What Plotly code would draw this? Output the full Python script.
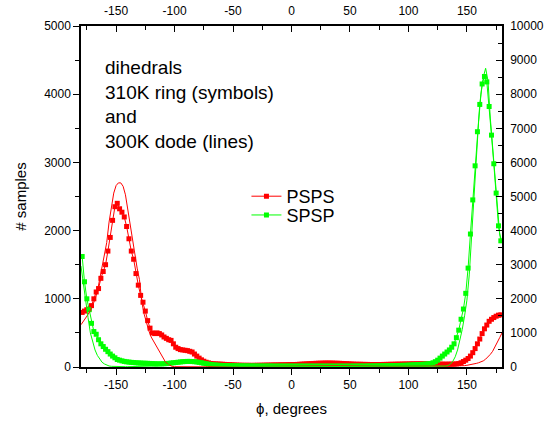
import plotly.graph_objects as go

# ---- data -------------------------------------------------------------
# 310K ring simulation (symbols), left axis, bins every 2 degrees
phi_ring = list(range(-179, 180, 2))
psps_ring = [
    800, 820, 840, 850, 900, 1000, 1100, 1150, 1300, 1400,
    1500, 1700, 1900, 2150, 2350, 2400, 2320, 2270, 2200, 2060,
    1880, 1700, 1580, 1370, 1200, 1050, 950, 820, 680, 570,
    500, 490, 500, 490, 470, 440, 420, 400, 390, 340,
    290, 270, 255, 250, 245, 240, 230, 220, 190, 160,
    130, 105, 85, 70, 60, 52, 48, 45, 44, 42,
    40, 38, 36, 34, 32, 30, 28, 27, 26, 25,
    25, 25, 24, 24, 25, 25, 26, 26, 27, 28,
    28, 29, 30, 30, 31, 32, 32, 33, 34, 35,
    36, 37, 38, 40, 42, 44, 46, 48, 50, 52,
    54, 55, 56, 57, 58, 58, 58, 57, 56, 55,
    54, 52, 50, 48, 46, 44, 42, 41, 40, 40,
    39, 38, 38, 37, 37, 36, 36, 37, 37, 38,
    38, 39, 40, 40, 41, 42, 42, 43, 44, 44,
    45, 46, 46, 47, 47, 48, 48, 48, 47, 46,
    45, 44, 43, 42, 42, 41, 41, 42, 42, 43,
    45, 50, 62, 80, 100, 125, 160, 210, 270, 340,
    410, 490, 560, 615, 670, 700, 725, 745, 760, 765,
]
spsp_ring = [
    1620, 1250, 1000, 840, 640, 520, 480, 400, 340, 300,
    260, 225, 190, 160, 135, 110, 100, 90, 82, 76,
    72, 68, 65, 62, 60, 58, 56, 55, 54, 52,
    50, 48, 46, 46, 46, 48, 50, 54, 58, 62,
    66, 70, 74, 78, 80, 82, 82, 80, 78, 74,
    68, 62, 55, 48, 42, 36, 32, 29, 26, 24,
    22, 21, 20, 19, 18, 18, 17, 17, 16, 16,
    16, 15, 15, 15, 15, 14, 14, 14, 14, 14,
    14, 14, 13, 13, 13, 13, 13, 13, 13, 13,
    13, 13, 13, 13, 13, 13, 13, 13, 13, 13,
    13, 13, 13, 13, 13, 13, 13, 13, 13, 13,
    13, 13, 13, 13, 13, 13, 14, 14, 14, 14,
    14, 14, 15, 15, 15, 16, 16, 17, 17, 18,
    18, 19, 20, 20, 21, 22, 23, 24, 25, 26,
    28, 30, 32, 34, 36, 38, 40, 43, 46, 50,
    62, 78, 100, 130, 160, 190, 220, 250, 290, 340,
    430, 540, 700, 850, 1080, 1450, 1950, 2450, 2950, 3450,
    3850, 4150, 4260, 4180, 3820, 3400, 2980, 2550, 2070, 1850,
]

# 300K dode simulation (lines), right axis, every 2 degrees
phi_dode = list(range(-180, 181, 2))
psps_dode = [
    1240, 1330, 1430, 1540, 1660, 1800, 1980, 2220, 2560, 2880,
    3200, 3650, 4250, 4750, 5100, 5320, 5400, 5400, 5300, 5050,
    4600, 4250, 3750, 3280, 2900, 2560, 1900, 1550, 1280, 1060,
    880, 760, 620, 500, 400, 280, 160, 90, 40, 15,
    10, 8, 6, 5, 5, 5, 5, 5, 5, 5,
    5, 5, 5, 5, 5, 5, 5, 5, 5, 5,
    5, 5, 5, 5, 5, 5, 5, 5, 5, 5,
    6, 6, 7, 7, 8, 8, 9, 9, 10, 10,
    11, 12, 13, 14, 15, 16, 17, 18, 19, 20,
    22, 24, 26, 28, 30, 32, 34, 36, 38, 40,
    42, 44, 46, 48, 50, 50, 50, 50, 48, 46,
    44, 42, 40, 38, 36, 34, 32, 30, 28, 26,
    25, 24, 23, 22, 21, 20, 20, 20, 20, 20,
    20, 20, 20, 20, 20, 20, 20, 20, 20, 20,
    20, 20, 20, 20, 20, 20, 20, 20, 20, 20,
    20, 20, 20, 20, 20, 20, 20, 20, 20, 20,
    20, 22, 25, 30, 40, 50, 60, 70, 85, 105,
    125, 150, 180, 230, 290, 370, 460, 580, 720, 860,
    1000,
]
spsp_dode = [
    2960, 2400, 1900, 1450, 1000, 720, 500, 340, 220, 140,
    90, 50, 30, 20, 15, 12, 10, 10, 10, 10,
    10, 10, 10, 10, 10, 10, 12, 14, 16, 18,
    20, 24, 30, 38, 50, 62, 75, 88, 100, 110,
    120, 128, 134, 138, 140, 140, 138, 134, 128, 120,
    110, 96, 82, 70, 60, 50, 42, 36, 32, 28,
    26, 24, 22, 20, 20, 20, 20, 20, 20, 20,
    20, 20, 20, 20, 20, 20, 20, 20, 20, 20,
    20, 20, 20, 20, 20, 20, 20, 20, 20, 20,
    20, 20, 20, 20, 20, 20, 20, 20, 20, 20,
    20, 20, 20, 20, 20, 20, 20, 20, 20, 20,
    20, 20, 20, 20, 20, 20, 20, 20, 20, 20,
    20, 20, 20, 20, 20, 20, 20, 20, 20, 20,
    20, 20, 20, 20, 22, 22, 24, 24, 26, 26,
    22, 22, 22, 20, 20, 20, 20, 20, 20, 20,
    20, 20, 20, 20, 20, 22, 28, 45, 90, 170,
    300, 500, 800, 1100, 1500, 1960, 2700, 3800, 5200, 6300,
    7200, 8000, 8500, 8760, 8400, 7300, 6400, 5560, 4660, 3900,
    3660,
]

series_names = ["PSPS", "SPSP"]
series_colors = ["#ff0000", "#00ff00"]

x_major = [-150, -100, -50, 0, 50, 100, 150]
x_major_text = ["-150", "-100", "-50", "0", "50", "100", "150"]
x_minor = [-175, -125, -75, -25, 25, 75, 125, 175]
y_left_ticks = [0, 1000, 2000, 3000, 4000, 5000]
y_right_ticks = [0, 1000, 2000, 3000, 4000, 5000, 6000, 7000, 8000, 9000, 10000]
y_right_text = [str(v) for v in y_right_ticks]

annotation_text = "dihedrals<br>310K ring (symbols)<br>and<br>300K dode (lines)"

# ---- figure -----------------------------------------------------------
FONT = "Liberation Sans, Arial, sans-serif"
fig = go.Figure()

legend_ids = ["legend", "legend2"]
for name, color, ring, dode, lg in zip(series_names, series_colors,
                                       [psps_ring, spsp_ring],
                                       [psps_dode, spsp_dode], legend_ids):
    fig.add_trace(go.Scatter(
        x=phi_ring, y=ring, name=name, mode="lines+markers",
        line=dict(color=color, width=1),
        marker=dict(symbol="square", size=5, color=color),
        xaxis="x", yaxis="y", legend=lg,
    ))
    fig.add_trace(go.Scatter(
        x=phi_dode, y=dode, name=name + " dode", mode="lines",
        line=dict(color=color, width=1), showlegend=False,
        xaxis="x", yaxis="y2",
    ))

axis_common = dict(showline=True, linecolor="black", linewidth=1.5,
                   showgrid=False, zeroline=False, automargin=False,
                   tickcolor="black", tickwidth=1,
                   tickfont=dict(family=FONT, size=12, color="black"))

legend_common = dict(xanchor="left", yanchor="middle",
                     bgcolor="rgba(0,0,0,0)", borderwidth=0,
                     font=dict(family=FONT, size=18, color="black"))

fig.update_layout(
    width=545, height=421,
    margin=dict(l=81, r=43, t=26, b=54),
    paper_bgcolor="white", plot_bgcolor="white",
    font=dict(family=FONT, color="black"),
    xaxis=dict(range=[-180, 180], tickmode="array", tickvals=x_major,
               ticktext=x_major_text, ticks="outside", ticklen=6,
               minor=dict(tickmode="array", tickvals=x_minor, ticks="outside",
                          ticklen=4, tickcolor="black"),
               title=dict(text="ϕ, degrees", font=dict(family=FONT, size=15),
                          standoff=12),
               **axis_common),
    xaxis2=dict(range=[-180, 180], overlaying="x", side="top", anchor="y",
                tickmode="array", tickvals=x_major, ticktext=x_major_text,
                ticks="inside", ticklen=6, ticklabelstandoff=4,
                minor=dict(tickmode="array", tickvals=x_minor, ticks="inside",
                           ticklen=4, tickcolor="black"),
                **axis_common),
    yaxis=dict(range=[0, 5000], tickmode="array", tickvals=y_left_ticks,
               ticks="outside", ticklen=6,
               minor=dict(dtick=500, tick0=0, ticks="outside", ticklen=4,
                          tickcolor="black"),
               title=dict(text="# samples", font=dict(family=FONT, size=15),
                          standoff=14),
               **axis_common),
    yaxis2=dict(range=[0, 10000], overlaying="y", side="right", anchor="x",
                tickmode="array", tickvals=y_right_ticks, ticktext=y_right_text,
                ticks="inside", ticklen=6, ticklabelstandoff=4,
                minor=dict(dtick=500, tick0=0, ticks="inside", ticklen=4,
                           tickcolor="black"),
                **axis_common),
    legend=dict(x=0.393, y=0.50, **legend_common),
    legend2=dict(x=0.393, y=0.445, **legend_common),
    showlegend=True,
)

# dummy trace to activate the top axis
fig.add_trace(go.Scatter(x=[None], y=[None], xaxis="x2", yaxis="y",
                         showlegend=False, hoverinfo="skip"))

fig.add_annotation(
    text=annotation_text, xref="paper", yref="paper",
    x=0.053, y=0.915, xanchor="left", yanchor="top", align="left",
    showarrow=False, font=dict(family=FONT, size=19, color="black"),
)

# remove the browser's default 8px body margin so the figure fills the window
fig.write_html("out.html",
               config={"displayModeBar": False},
               post_script="document.body.style.margin='0';"
                           "document.body.style.overflow='hidden';")
